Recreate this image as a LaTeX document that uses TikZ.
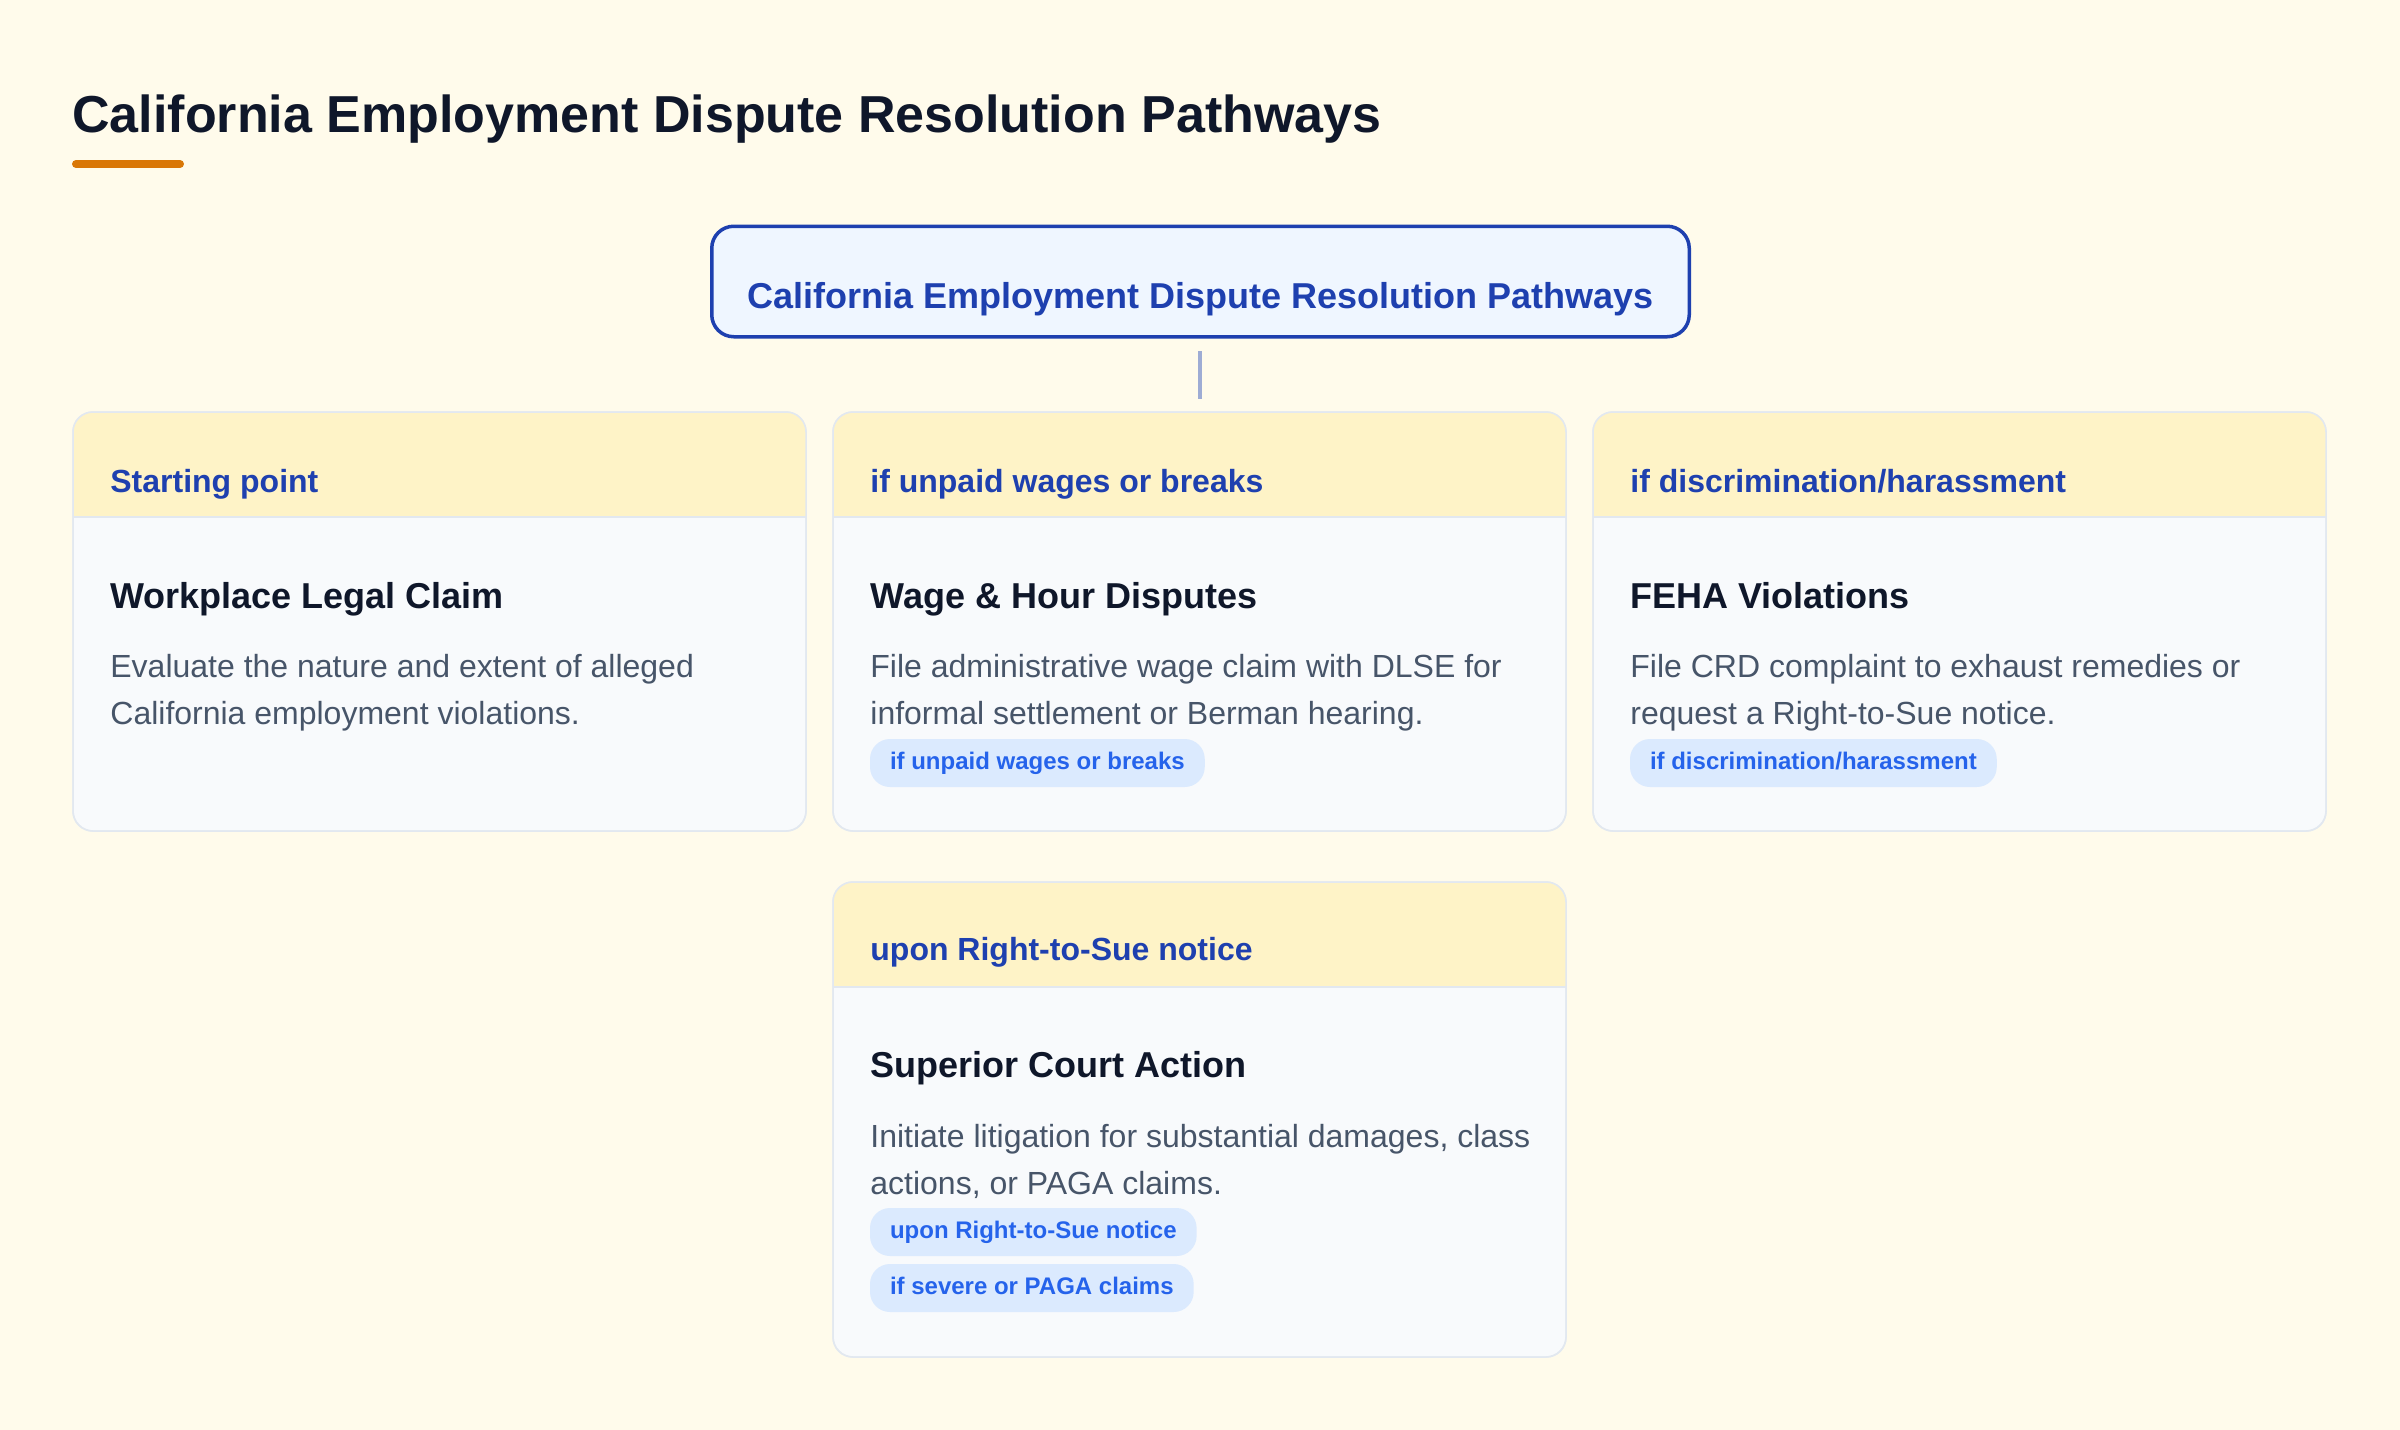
\documentclass[tikz,border=0pt]{standalone}
\usepackage{fontspec}
\setmainfont{Liberation Sans}
\definecolor{bgcol}{HTML}{FFFBEB}
\definecolor{ink}{HTML}{0F172A}
\definecolor{accentcol}{HTML}{D97706}
\definecolor{navy}{HTML}{1E40AF}
\definecolor{topfill}{HTML}{EFF6FF}
\definecolor{conncol}{HTML}{9EACD4}
\definecolor{hdrfill}{HTML}{FEF3C7}
\definecolor{bodyfill}{HTML}{F8FAFC}
\definecolor{cardline}{HTML}{E2E8F0}
\definecolor{desccol}{HTML}{475569}
\definecolor{pillfill}{HTML}{DBEAFE}
\definecolor{pilltext}{HTML}{2563EB}
\newcommand{\drawcard}[4]{%
  \node[cardbox, minimum height=#4] (#1) at (#2,#3) {};
  \begin{scope}
    \clip[rounded corners=10pt] (#1.north west) rectangle (#1.south east);
    \fill[hdrfill] (#1.north west) rectangle ([yshift=-52.5pt]#1.north east);
  \end{scope}
  \draw[cardline, line width=1pt] ([yshift=-52.5pt]#1.north west) -- ([yshift=-52.5pt]#1.north east);
  \draw[cardline, line width=0.75pt, rounded corners=10pt] (#1.north west) rectangle (#1.south east);
}
\begin{document}
\begin{tikzpicture}[x=0.5pt,y=-0.5pt,
  cardbox/.style={draw=cardline, line width=0.75pt, fill=bodyfill, rounded corners=10pt,
    minimum width=366.5pt, outer sep=0pt, inner sep=0pt, anchor=north west},
  hdrlabel/.style={anchor=base west, text=navy, inner sep=0pt,
    font=\fontsize{16pt}{19pt}\selectfont\bfseries},
  cardtitle/.style={anchor=base west, text=ink, inner sep=0pt,
    font=\fontsize{18pt}{22pt}\selectfont\bfseries},
  desctext/.style={anchor=base west, text=desccol, inner sep=0pt,
    font=\fontsize{16pt}{24pt}\selectfont},
  pill/.style={anchor=north west, fill=pillfill, text=pilltext, rounded corners=10pt,
    minimum height=24pt, inner xsep=10pt, inner ysep=0pt, text height=8.6pt, text depth=2pt,
    outer sep=0pt, font=\fontsize{12pt}{14pt}\selectfont\bfseries},
  conn/.style={draw=conncol, line width=2pt}
]
\fill[bgcol] (0,0) rectangle (2400,1430);
\useasboundingbox (0,0) rectangle (2400,1430);

% page title
\node[anchor=base west, inner sep=0pt, text=ink, font=\fontsize{26pt}{31pt}\selectfont\bfseries]
  (pagetitle) at (72,132) {California Employment Dispute Resolution Pathways};
\draw[accentcol, line width=4pt, line cap=round] (76,164) -- (180,164);

% top box
\node[draw=navy, line width=1.75pt, fill=topfill, rounded corners=11pt,
  minimum width=488.75pt, minimum height=55.25pt, inner sep=0pt, outer sep=0pt]
  (top) at (1200.5,281.5) {};
\node[anchor=base, inner sep=0pt, text=navy, font=\fontsize{18pt}{22pt}\selectfont\bfseries]
  (toptxt) at (1200.5,308) {California Employment Dispute Resolution Pathways};

% connector
\coordinate (ca) at (1200,351);
\coordinate (cb) at (1200,399);
\draw[conn] (ca) -- (cb);

% cards
\drawcard{c1}{73}{412}{209.5pt}
\drawcard{c2}{833}{412}{209.5pt}
\drawcard{c3}{1593}{412}{209.5pt}
\drawcard{c4}{833}{882}{237.5pt}

% card 1
\node[hdrlabel] (c1l) at (110,492) {Starting point};
\node[cardtitle] (c1t) at (110,608) {Workplace Legal Claim};
\node[desctext] (c1d1) at (110,677) {Evaluate the nature and extent of alleged};
\node[desctext] (c1d2) at (110,724) {California employment violations.};

% card 2
\node[hdrlabel] (c2l) at (870,492) {if unpaid wages or breaks};
\node[cardtitle] (c2t) at (870,608) {Wage \& Hour Disputes};
\node[desctext] (c2d1) at (870,677) {File administrative wage claim with DLSE for};
\node[desctext] (c2d2) at (870,724) {informal settlement or Berman hearing.};
\node[pill] (c2p1) at (870,739) {if unpaid wages or breaks};

% card 3
\node[hdrlabel] (c3l) at (1630,492) {if discrimination/harassment};
\node[cardtitle] (c3t) at (1630,608) {FEHA Violations};
\node[desctext] (c3d1) at (1630,677) {File CRD complaint to exhaust remedies or};
\node[desctext] (c3d2) at (1630,724) {request a Right-to-Sue notice.};
\node[pill] (c3p1) at (1630,739) {if discrimination/harassment};

% card 4
\node[hdrlabel] (c4l) at (870,960) {upon Right-to-Sue notice};
\node[cardtitle] (c4t) at (870,1077) {Superior Court Action};
\node[desctext] (c4d1) at (870,1147) {Initiate litigation for substantial damages, class};
\node[desctext] (c4d2) at (870,1194) {actions, or PAGA claims.};
\node[pill] (c4p1) at (870,1208) {upon Right-to-Sue notice};
\node[pill] (c4p2) at (870,1264) {if severe or PAGA claims};
\end{tikzpicture}
\end{document}
